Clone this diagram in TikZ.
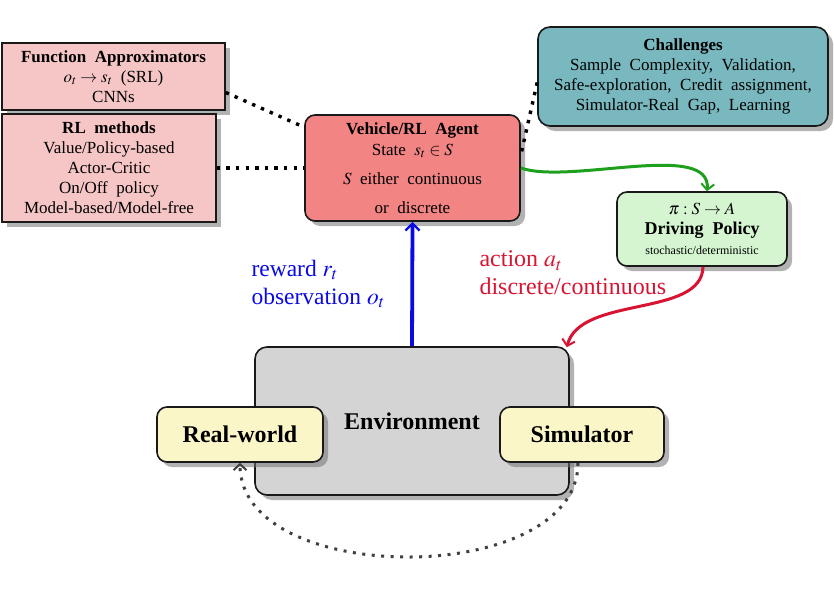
\documentclass[tikz,border=0pt]{standalone}
\usepackage{mathptmx}
\usepackage{fontspec}
\setmainfont{Liberation Serif}
\usetikzlibrary{shadows,arrows.meta}
\definecolor{pinkbox}{RGB}{246,198,198}
\definecolor{agentred}{RGB}{242,132,132}
\definecolor{chalteal}{RGB}{120,184,190}
\definecolor{policygreen}{RGB}{212,245,208}
\definecolor{envgray}{RGB}{212,212,212}
\definecolor{yellowbox}{RGB}{251,246,200}
\definecolor{bluearrow}{RGB}{10,10,230}
\definecolor{redtext}{RGB}{215,20,50}
\definecolor{greenarrow}{RGB}{30,160,30}
\begin{document}
\begin{tikzpicture}[x=1pt,y=-1pt,
  shad/.style={drop shadow={shadow xshift=5pt,shadow yshift=-5pt,opacity=0.55,fill=black!55}},
  boxbase/.style={draw=black!90,line width=1.6pt,shad,align=center,inner sep=2pt},
  sqbox/.style={boxbase,fill=pinkbox,font=\fontsize{17}{20}\selectfont},
  rbox/.style={boxbase,rounded corners=10pt},
  dots/.style={line width=3.4pt,dash pattern=on 3.4pt off 6.2pt,black},
  tipopen/.style={-{Straight Barb[length=7pt,width=14pt,line width=2.4pt]}}
]
\useasboundingbox (0,0) rectangle (834,600);

\node[sqbox,minimum width=223pt,minimum height=67pt] (fa) at (113.5,76.5)
  {\textbf{Function\ \ Approximators}\\$o_t \rightarrow s_t$\ \ (SRL)\\CNNs};
\node[sqbox,minimum width=214pt,minimum height=108pt] (rl) at (109,168)
  {\textbf{RL\ \ methods}\\Value/Policy-based\\Actor-Critic\\On/Off\ \ policy\\Model-based/Model-free};

\node[rbox,fill=agentred,minimum width=215pt,minimum height=106pt,font=\fontsize{17}{19}\selectfont] (agent) at (412.5,168)
  {\textbf{Vehicle/RL\ \ Agent}\\[2pt]State\ \ $s_t \in S$\\[10pt]$S$\ \ either\ \ continuous\\[10pt]or\ \ discrete};

\node[rbox,rounded corners=12pt,fill=chalteal,minimum width=290pt,minimum height=99pt,font=\fontsize{17}{20}\selectfont] (chal) at (683,76.5)
  {\textbf{Challenges}\\Sample\ \ Complexity,\ \ Validation,\\Safe-exploration,\ \ Credit\ \ assignment,\\Simulator-Real\ \ Gap,\ \ Learning};

\node[rbox,fill=policygreen,minimum width=170pt,minimum height=74pt,font=\fontsize{17}{20}\selectfont] (dp) at (702,229)
  {$\pi : S \rightarrow A$\\\textbf{\fontsize{18}{21}\selectfont Driving\ \ Policy}\\{\fontsize{12}{15}\selectfont stochastic/deterministic}};

\node[rbox,rounded corners=12pt,fill=envgray,minimum width=314pt,minimum height=148pt,font=\fontsize{24}{28}\selectfont\bfseries] (env) at (412,421) {Environment};

\node[rbox,fill=yellowbox,minimum width=166pt,minimum height=55pt,font=\fontsize{24}{28}\selectfont\bfseries] (rw) at (240,434.5) {Real-world};
\node[rbox,fill=yellowbox,minimum width=164pt,minimum height=55pt,font=\fontsize{24}{28}\selectfont\bfseries] (sim) at (582,434.5) {Simulator};

% dotted links
\draw[dots] ([yshift=-16pt]fa.east) -- ([yshift=-13pt]agent.north west);
\draw[dots] (rl.east) -- (agent.west);
\draw[dots] ([yshift=-6pt]chal.west) -- ([yshift=13pt]agent.east);

% blue arrow
\draw[bluearrow,line width=3.8pt,tipopen] (env.north) -- (agent.south);
\node[bluearrow,anchor=west,align=left,font=\fontsize{23.5}{28}\selectfont] (rew) at (248,284)
  {reward $r_t$\\observation $o_t$};

% action text
\node[redtext,anchor=west,align=left,font=\fontsize{24}{28}\selectfont] (act) at (476,273)
  {action $a_t$\\discrete/continuous};

% green arrow
\draw[greenarrow,line width=3pt,-{Straight Barb[length=6pt,width=13pt,line width=2pt]}]
  (agent.east) .. controls (570,185) and (712,140) .. ([xshift=5pt]dp.north);

% red arrow
\draw[redtext,line width=3pt,-{Straight Barb[length=6pt,width=13pt,line width=2pt]}]
  ([xshift=1pt]dp.south) .. controls (702,318) and (580,295) .. ([xshift=-3pt,yshift=-1pt]env.north east);

% dotted loop
\draw[black!75,line width=3pt,dash pattern=on 3pt off 6.5pt,-{Straight Barb[length=6pt,width=13pt,line width=2pt]}]
  ([xshift=-4pt]sim.south) to[out=-90,in=-90,looseness=0.95] (rw.south);
\end{tikzpicture}
\end{document}
